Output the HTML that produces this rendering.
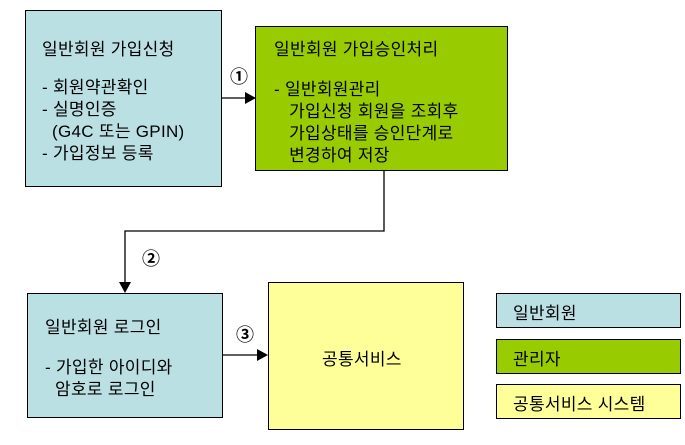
<!DOCTYPE html>
<html><head><meta charset="utf-8"><style>
body{margin:0;width:685px;height:445px;background:#fff;position:relative;overflow:hidden;font-family:"Liberation Sans","Noto Sans CJK KR","NanumGothic",sans-serif;color:#000}
.b{position:absolute;border:1px solid #000;box-sizing:border-box}
.t{position:absolute;font-size:17px;line-height:22px;white-space:pre;letter-spacing:0.3px}
.s{position:absolute;font-size:17px;white-space:pre;letter-spacing:0.3px}
.n{position:absolute;font-size:18px;font-weight:bold;white-space:pre}
</style></head><body>
<div class="b" style="left:25px;top:10px;width:197px;height:177px;background:#bbe0e3"></div>
<div class="b" style="left:255px;top:26px;width:253px;height:145px;background:#99cc00"></div>
<div class="b" style="left:27px;top:293px;width:196px;height:125px;background:#bbe0e3"></div>
<div class="b" style="left:268px;top:282px;width:196px;height:148px;background:#ffff99"></div>
<div class="b" style="left:496px;top:293px;width:185px;height:35px;background:#bbe0e3"></div>
<div class="b" style="left:496px;top:339px;width:185px;height:35px;background:#99cc00"></div>
<div class="b" style="left:496px;top:384px;width:185px;height:35px;background:#ffff99"></div>
<svg style="position:absolute;left:0;top:0" width="685" height="445">
<g stroke="#000" stroke-width="1.3" fill="none">
<line x1="222" y1="98" x2="247" y2="98"/>
<polyline points="384,171 384,231 125,231 125,283"/>
<line x1="223" y1="355" x2="259" y2="355"/>
</g>
<g fill="#000">
<polygon points="256,98 245,92 245,104"/>
<polygon points="125,293 119,282 131,282"/>
<polygon points="268,355 257,349 257,361"/>
</g>
</svg>
<div class="s" style="left:42px;top:35px">일반회원 가입신청</div>
<div class="t" style="left:42px;top:77px">- 회원약관확인
- 실명인증
  (G4C 또는 GPIN)
- 가입정보 등록</div>
<div class="s" style="left:274px;top:35px">일반회원 가입승인처리</div>
<div class="t" style="left:274px;top:79px">- 일반회원관리
   가입신청 회원을 조회후
   가입상태를 승인단계로
   변경하여 저장</div>
<div class="s" style="left:45px;top:313px">일반회원 로그인</div>
<div class="t" style="left:45px;top:357px">- 가입한 아이디와
  암호로 로그인</div>
<div class="s" style="left:322px;top:345px">공통서비스</div>
<div class="s" style="left:513px;top:299px">일반회원</div>
<div class="s" style="left:513px;top:345px">관리자</div>
<div class="s" style="left:513px;top:390px">공통서비스 시스템</div>
<div class="n" style="left:230px;top:63px">①</div>
<div class="n" style="left:142px;top:245px">②</div>
<div class="n" style="left:236px;top:321px">③</div>
</body></html>
